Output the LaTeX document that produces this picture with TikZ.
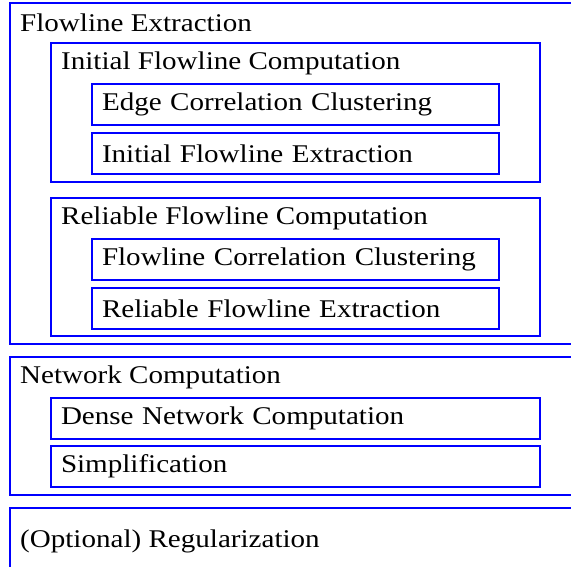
\documentclass[tikz,border=0pt]{standalone}
\usepackage{fontspec}
\setmainfont{Liberation Serif}[FakeStretch=1.14]
\usepackage{tikz}
\usetikzlibrary{positioning}

\tikzset{
  stage/.style={draw=blue, line width=1.2pt},
  heading/.style={anchor=base west, inner sep=0pt, font=\fontsize{25.5}{30}\selectfont},
  task/.style={draw=blue, line width=1.2pt, anchor=north west, minimum height=41pt,
    outer sep=0pt, inner xsep=10pt, inner ysep=0pt, align=left,
    font=\fontsize{25.5}{30}\selectfont},
  narrowtask/.style={task, text width=387pt},
  widetask/.style={task, text width=469pt}
}

\begin{document}
\begin{tikzpicture}[x=1pt, y=-1pt]
        \clip (0,0) rectangle (571,567);
        % pipeline stages
        \draw[stage] (10,3) rectangle (620,344);
        \draw[stage] (51,43) rectangle (540,182);
        \draw[stage] (51,198) rectangle (540,336);
        \draw[stage] (10,357) rectangle (620,495);
        \draw[stage] (10,508) rectangle (620,620);
        % headings
        \node[heading] (flowext) at (20,32) {Flowline Extraction};
        \node[heading] (initcomp) at (61,70) {Initial Flowline Computation};
        \node[heading] (relcomp) at (61,225) {Reliable Flowline Computation};
        \node[heading] (netcomp) at (20,383) {Network Computation};
        \node[heading] (regular) at (20,547) {(Optional) Regularization};
        % steps
        \node[narrowtask] (edgeclust) at (92,84) {Edge Correlation Clustering};
        \node[narrowtask] (initext) at (92,133) {Initial Flowline Extraction};
        \node[narrowtask] (flowclust) at (92,239) {Flowline Correlation Clustering};
        \node[narrowtask] (relext) at (92,288) {Reliable Flowline Extraction};
        \node[widetask] (dense) at (51,398) {Dense Network Computation};
        \node[widetask] (simplify) at (51,446) {Simplification};
\end{tikzpicture}
\end{document}
